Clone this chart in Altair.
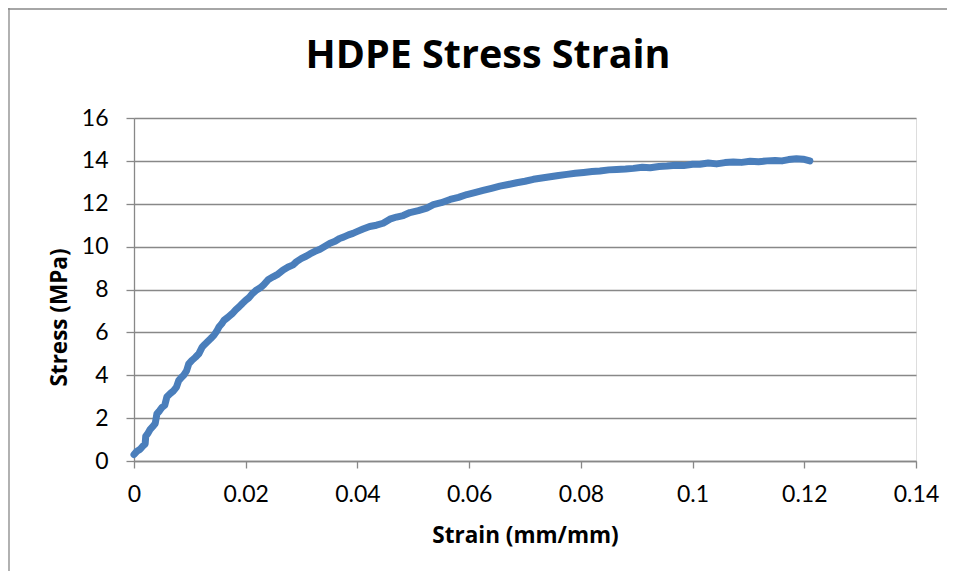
import altair as alt
import pandas as pd

strain = [
    0.0000, 0.0005, 0.0011, 0.0016, 0.0020, 0.0021, 0.0025, 0.0029, 0.0035, 0.0038,
    0.0041, 0.0046, 0.0050, 0.0055, 0.0059, 0.0065, 0.0071, 0.0076, 0.0080, 0.0085,
    0.0089, 0.0094, 0.0098, 0.0104, 0.0110, 0.0116, 0.0122, 0.0127, 0.0131, 0.0137,
    0.0143, 0.0148, 0.0152, 0.0157, 0.0161, 0.0168, 0.0176, 0.0182, 0.0188, 0.0194,
    0.0200, 0.0206, 0.0212, 0.0218, 0.0226, 0.0232, 0.0240, 0.0249, 0.0258, 0.0267,
    0.0276, 0.0285, 0.0291, 0.0300, 0.0308, 0.0315, 0.0324, 0.0333, 0.0342, 0.0351,
    0.0360, 0.0368, 0.0375, 0.0384, 0.0392, 0.0399, 0.0410, 0.0422, 0.0434, 0.0446,
    0.0458, 0.0470, 0.0482, 0.0494, 0.0509, 0.0524, 0.0536, 0.0550, 0.0566, 0.0581,
    0.0596, 0.0610, 0.0625, 0.0640, 0.0655, 0.0670, 0.0685, 0.0700, 0.0715, 0.0730,
    0.0745, 0.0760, 0.0775, 0.0790, 0.0805, 0.0820, 0.0834, 0.0850, 0.0864, 0.0880,
    0.0894, 0.0910, 0.0924, 0.0940, 0.0954, 0.0970, 0.0984, 0.1000, 0.1013, 0.1028,
    0.1043, 0.1058, 0.1073, 0.1088, 0.1103, 0.1118, 0.1133, 0.1148, 0.1160, 0.1172,
    0.1186, 0.1198, 0.1210,
]
stress = [
    0.30, 0.45, 0.55, 0.70, 0.80, 1.15, 1.30, 1.48, 1.65, 1.75,
    2.20, 2.35, 2.50, 2.60, 3.00, 3.15, 3.28, 3.45, 3.75, 3.90,
    4.00, 4.20, 4.53, 4.70, 4.84, 5.00, 5.31, 5.45, 5.55, 5.70,
    5.86, 6.05, 6.25, 6.40, 6.56, 6.70, 6.88, 7.05, 7.19, 7.35,
    7.50, 7.62, 7.81, 7.95, 8.08, 8.22, 8.45, 8.59, 8.72, 8.91,
    9.05, 9.15, 9.30, 9.45, 9.55, 9.66, 9.78, 9.88, 10.02, 10.16,
    10.25, 10.38, 10.44, 10.55, 10.62, 10.70, 10.82, 10.94, 11.00, 11.09,
    11.28, 11.38, 11.45, 11.59, 11.68, 11.80, 11.96, 12.05, 12.20, 12.30,
    12.43, 12.52, 12.62, 12.72, 12.82, 12.90, 12.98, 13.05, 13.14, 13.20,
    13.26, 13.32, 13.37, 13.42, 13.46, 13.50, 13.53, 13.58, 13.60, 13.62,
    13.65, 13.70, 13.68, 13.74, 13.76, 13.80, 13.78, 13.84, 13.84, 13.90,
    13.86, 13.92, 13.95, 13.93, 13.98, 13.96, 14.00, 14.02, 14.00, 14.06,
    14.10, 14.08, 14.00,
]
x_ticks = [0, 0.02, 0.04, 0.06, 0.08, 0.1, 0.12, 0.14]
y_ticks = [0, 2, 4, 6, 8, 10, 12, 14, 16]
title_text = "HDPE Stress Strain"

df = pd.DataFrame({"strain": strain, "stress": stress, "order": list(range(len(strain)))})

GRAY = "#888888"
FONT = "Lato"
TFONT = "Open Sans"

x_enc = alt.X(
    "strain:Q",
    scale=alt.Scale(domain=[0, 0.14], nice=False, zero=True),
    axis=alt.Axis(
        values=x_ticks, format=".2~f", grid=False,
        title="Strain (mm/mm)", titleFont=TFONT, titleFontSize=22.5, titleFontWeight="bold",
        titleColor="black", titleBaseline="alphabetic", titleY=81, titleX=391,
        labelFont=FONT, labelFontSize=23, labelColor="black",
        labelBaseline="alphabetic", labelPadding=33, tickSize=7,
        tickColor=GRAY, tickWidth=1.3, domainColor=GRAY, domainWidth=1.3,
        labelFlush=False, labelOverlap=False,
    ),
)
y_enc = alt.Y(
    "stress:Q",
    scale=alt.Scale(domain=[0, 16], nice=False),
    axis=alt.Axis(
        values=y_ticks, grid=True, gridColor=GRAY, gridWidth=1.3,
        title="Stress (MPa)", titleFont=TFONT, titleFontSize=22.5, titleFontWeight="bold",
        titleColor="black", titleBaseline="alphabetic", titleAngle=270,
        titleX=-68, titleY=199,
        labelFont=FONT, labelFontSize=23, labelColor="black",
        labelPadding=18, tickSize=8,
        tickColor=GRAY, tickWidth=1.3, domainColor=GRAY, domainWidth=1.3,
        labelFlush=False, labelOverlap=False,
    ),
)

curve = alt.Chart(df).mark_line(
    color="#4A7EBB", strokeWidth=7, strokeCap="round", strokeJoin="round"
).encode(x=x_enc, y=y_enc, order="order:Q")

one = pd.DataFrame({"t": [title_text]})

frame_left = alt.Chart(one).mark_rule(stroke=GRAY, strokeWidth=1.3).encode(
    x=alt.value(-125), y=alt.value(-111), y2=alt.value(470)
)
frame_top = alt.Chart(one).mark_rule(stroke=GRAY, strokeWidth=1.3).encode(
    x=alt.value(-126), x2=alt.value(830), y=alt.value(-109)
)

title = alt.Chart(one).mark_text(
    font=TFONT, fontSize=39.5, fontWeight="bold", color="black",
    align="center", baseline="alphabetic",
).encode(text="t:N", x=alt.value(354), y=alt.value(-50))

chart = alt.layer(frame_left, frame_top, curve, title).properties(
    width=782,
    height=343,
    autosize=alt.AutoSizeParams(type="none"),
    padding={"left": 126, "top": 110, "right": 31, "bottom": 110},
).configure_view(stroke=None).configure(background="white")

chart.save("out.html", embed_options={"renderer": "svg", "actions": False})
